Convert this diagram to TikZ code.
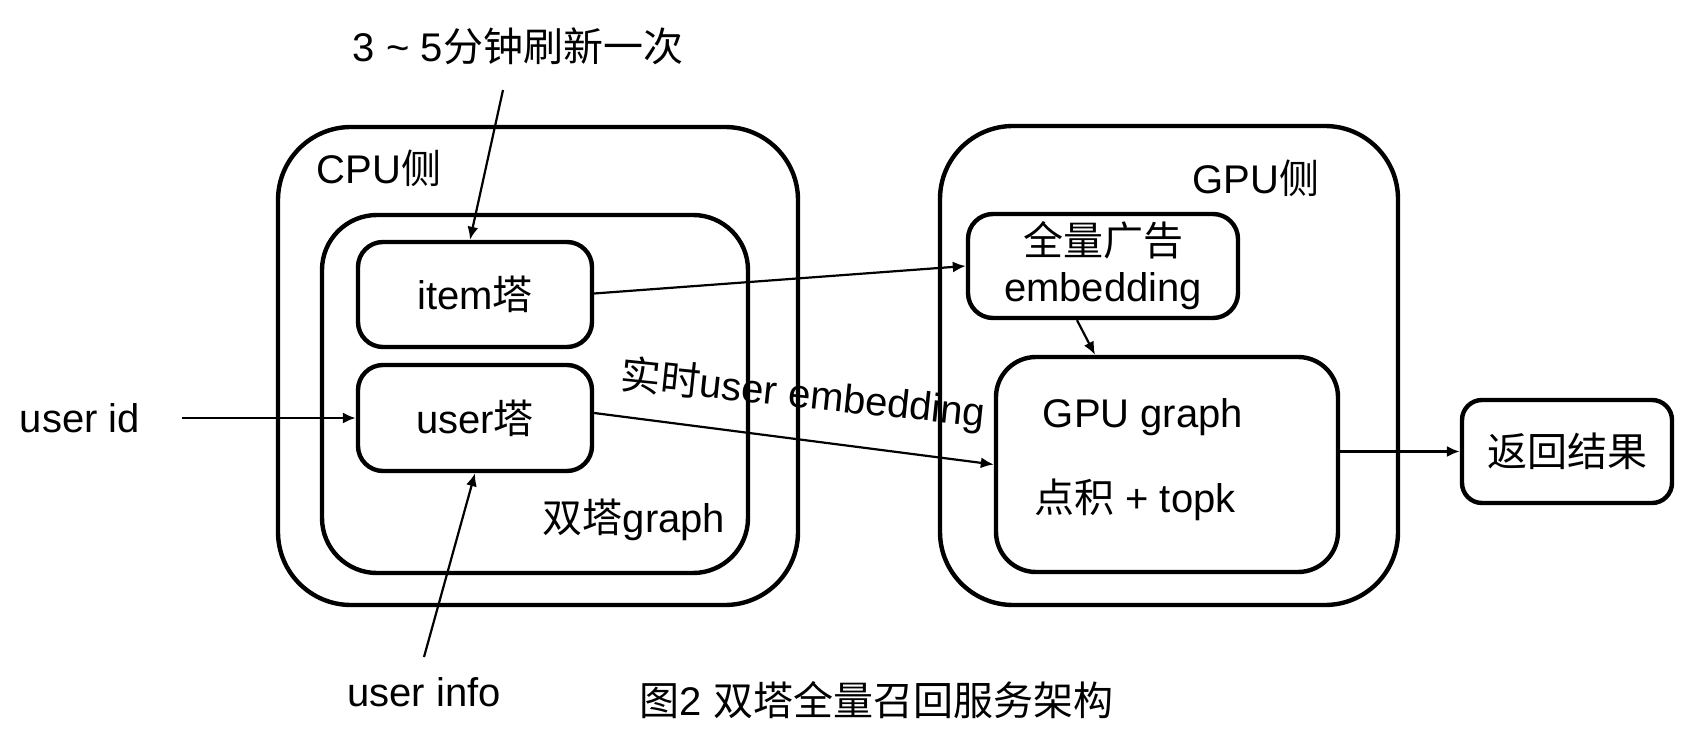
\documentclass[tikz,border=0pt]{standalone}
\usepackage{fontspec}
\setmainfont{Liberation Sans}
\newfontfamily\cjk{Noto Sans CJK SC}
\usetikzlibrary{arrows.meta}
\begin{document}
\begin{tikzpicture}[x=0.5pt,y=-0.5pt,
  font=\fontsize{20pt}{24pt}\selectfont,
  box/.style={draw, line width=2.2pt, rounded corners=#1, inner sep=0pt},
  box/.default=12pt,
  txt/.style={inner sep=0pt},
  arr/.style={-{Latex[length=6.5pt,width=5.5pt]}, line width=1.1pt}]
\useasboundingbox (0,0) rectangle (1692,748);
% containers
\node[box=36.5pt, minimum width=260pt, minimum height=239pt] (cpu) at (538,366) {};
\node[box=27.5pt, minimum width=213pt, minimum height=179pt] (tgraph) at (535,394) {};
\node[box=36.5pt, minimum width=229pt, minimum height=239.5pt] (gpu) at (1169,365.5) {};
% boxes
\node[box=12.5pt, minimum width=117pt, minimum height=52.5pt] (item) at (475,294.5) {item{\cjk 塔}};
\node[box=12.5pt, minimum width=117pt, minimum height=53pt] (user) at (475,418) {user{\cjk 塔}};
\node[box=12.5pt, minimum width=135pt, minimum height=52pt, align=center] (qlgg) at (1103,266) {{\cjk 全量广告}\\[-1pt]embedding};
\node[box=20pt, minimum width=171pt, minimum height=107.5pt] (gpug) at (1167,464.5) {};
\node[box=10pt, minimum width=105pt, minimum height=51.5pt] (ret) at (1567,451.5) {{\cjk 返回结果}};
% labels
\node[txt] (cpulbl) at (379,168) {CPU{\cjk 侧}};
\node[txt] (gpulbl) at (1256,178) {GPU{\cjk 侧}};
\node[txt] (tglbl) at (634,520) {{\cjk 双塔}graph};
\node[txt] (gglbl) at (1143,417) {GPU graph};
\node[txt] (dotlbl) at (1135,500) {{\cjk 点积} + topk};
\node[txt] (refresh) at (518,46) {3 \textasciitilde{} 5{\cjk 分钟刷新一次}};
\node[txt] (uid) at (80,418) {user id};
\node[txt] (uinfo) at (424,692) {user info};
\node[txt, rotate=-6] (rtlbl) at (803,395) {{\cjk 实时}user embedding};
\node[txt] (caption) at (876.5,700) {{\cjk 图}2 {\cjk 双塔全量召回服务架构}};
% free ends
\coordinate (rs) at (503,90);
\coordinate (uis) at (424,657);
\coordinate (uids) at (182,418);
% connectors
\draw[arr] (rs) -- ([xshift=-2.5pt]item.north);
\draw[arr] (uids) -- (user.west);
\draw[arr] (uis) -- (user.south);
\draw[arr] ([yshift=0.5pt]item.east) -- (qlgg.west);
\draw[arr] ([yshift=2.5pt]user.east) -- (gpug.west);
\draw[arr] ([xshift=-13pt]qlgg.south) -- ([xshift=-36pt]gpug.north);
\draw[arr] (gpug.east |- ret.west) -- (ret.west);
\end{tikzpicture}
\end{document}
